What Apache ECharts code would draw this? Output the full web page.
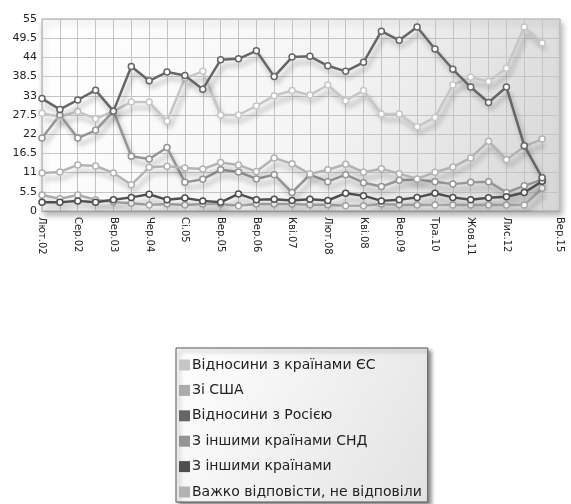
<!DOCTYPE html>
<html>
<head>
<meta charset="utf-8">
<script src="https://cdn.jsdelivr.net/npm/echarts@6/dist/echarts.min.js"></script>
<style>
html,body{margin:0;padding:0;background:#fff;}
#c{width:571px;height:504px;}
</style>
</head>
<body>
<div id="c"></div>
<script>
// Category labels (only every other survey point carries a label)
var categories = ['Лют.02','','Сер.02','','Вер.03','','Чер.04','','Сі.05','','Вер.05','','Вер.06','','Кві.07','','Лют.08','','Кві.08','','Вер.09','','Тра.10','','Жов.11','','Лис.12','','','Вер.15'];

var seriesNames = ['Відносини з країнами ЄС','Зі США','Відносини з Росією','З іншими країнами СНД','З іншими країнами','Важко відповісти, не відповіли'];

var euValues = [28, 27, 28.5, 26.4, 28.6, 31.2, 31.2, 25.7, 38, 40, 27.5, 27.5, 30.1, 33, 34.5, 33.2, 36.1, 31.6, 34.5, 27.8, 27.8, 24.1, 26.8, 36.1, 38.3, 37.1, 40.9, 52.7, 48.1];
var usaValues = [4.6, 3.5, 4.6, 3.2, 2.6, 2.2, 1.7, 2.0, 1.7, 2.0, 2.0, 1.5, 2.0, 2.0, 2.0, 1.8, 1.8, 1.5, 1.5, 2.0, 1.8, 1.7, 1.7, 1.7, 1.7, 1.7, 1.7, 1.7, 6.5];
var russiaValues = [32.2, 29.1, 31.8, 34.6, 28.6, 41.4, 37.3, 39.8, 38.8, 34.9, 43.3, 43.6, 45.9, 38.5, 44.1, 44.3, 41.6, 40, 42.6, 51.5, 48.9, 52.7, 46.4, 40.6, 35.5, 31.1, 35.5, 18.7, 9.5];
var cisValues = [20.9, 27.5, 20.9, 23.1, 28.6, 15.7, 14.9, 18.2, 8.2, 9.1, 11.8, 11.2, 9.2, 10.4, 5.3, 10.4, 8.4, 10.4, 8.1, 7, 8.8, 9, 8.4, 7.7, 8.2, 8.4, 5.3, 7.2, 9];
var otherValues = [2.5, 2.5, 2.9, 2.5, 3.2, 3.9, 4.8, 3.2, 3.7, 2.9, 2.5, 4.9, 3.2, 3.4, 3.0, 3.4, 3.0, 5.1, 4.4, 2.9, 3.2, 3.9, 5.1, 3.9, 3.2, 3.8, 4.1, 5.3, 8.5];
var hardValues = [10.9, 11.2, 13.2, 12.9, 10.9, 7.5, 12.5, 12.8, 12.3, 12, 13.9, 13.2, 11.3, 15.2, 13.5, 10.6, 11.8, 13.4, 11.1, 12.1, 10.7, 9.2, 11.1, 12.6, 15.2, 20, 14.7, 18.5, 20.6];

var seriesValues = [euValues, usaValues, russiaValues, cisValues, otherValues, hardValues];
var colors = ['#c6c6c6', '#ababab', '#666666', '#959595', '#4f4f4f', '#b3b3b3'];

var chart = echarts.init(document.getElementById('c'));
var font = 'DejaVu Sans';

var series = seriesNames.map(function (n, i) {
  return {
    name: n,
    type: 'line',
    data: seriesValues[i],
    symbol: 'circle',
    symbolSize: 6,
    showSymbol: true,
    z: (i === 2 ? 5 : (i === 4 ? 4 : 3)),
    lineStyle: {
      color: colors[i], width: 2.5,
      shadowColor: 'rgba(0,0,0,0.28)', shadowBlur: 5, shadowOffsetX: 3, shadowOffsetY: 6
    },
    itemStyle: { color: '#ffffff', borderColor: colors[i], borderWidth: 1.5 },
    emphasis: { disabled: true }
  };
});

chart.setOption({
  animation: false,
  textStyle: { fontFamily: font },
  grid: {
    left: 42, right: 11, top: 19, bottom: 293,
    show: true,
    borderColor: '#a8a8a8', borderWidth: 1,
    backgroundColor: new echarts.graphic.LinearGradient(0, 0, 1, 1, [
      { offset: 0, color: '#ffffff' },
      { offset: 0.55, color: '#f4f4f4' },
      { offset: 1, color: '#d6d6d6' }
    ]),
    shadowColor: 'rgba(0,0,0,0.3)', shadowBlur: 6, shadowOffsetX: 2, shadowOffsetY: 4
  },
  xAxis: {
    type: 'category',
    data: categories,
    boundaryGap: false,
    axisLine: { show: true, lineStyle: { color: '#a8a8a8' } },
    axisTick: { show: false },
    axisLabel: {
      interval: 0, rotate: -90, margin: 6,
      fontSize: 10, color: '#222', fontFamily: font
    },
    splitLine: { show: true, interval: 0, lineStyle: { color: '#c4c4c4', width: 1 } }
  },
  yAxis: {
    type: 'value',
    min: 0, max: 55, interval: 5.5,
    axisLine: { show: false },
    axisTick: { show: false },
    axisLabel: { fontSize: 11, color: '#222', margin: 5, fontFamily: font },
    splitLine: { show: true, lineStyle: { color: '#c4c4c4', width: 1 } }
  },
  legend: {
    orient: 'vertical',
    left: 176, top: 348,
    icon: 'rect',
    itemWidth: 11, itemHeight: 11,
    itemGap: 11.4,
    padding: [10, 6, 3, 3],
    borderColor: '#555', borderWidth: 1,
    backgroundColor: new echarts.graphic.LinearGradient(0, 0, 1, 1, [
      { offset: 0, color: '#ffffff' },
      { offset: 1, color: '#e2e2e2' }
    ]),
    shadowColor: 'rgba(0,0,0,0.45)', shadowBlur: 4, shadowOffsetX: 3, shadowOffsetY: 3,
    textStyle: { fontSize: 14, color: '#222', fontFamily: font, padding: [0, 0, 0, -3] },
    selectedMode: false,
    data: seriesNames.map(function (n, i) {
      return { name: n, itemStyle: { color: colors[i], borderWidth: 0 } };
    })
  },
  series: series
});
</script>
</body>
</html>
